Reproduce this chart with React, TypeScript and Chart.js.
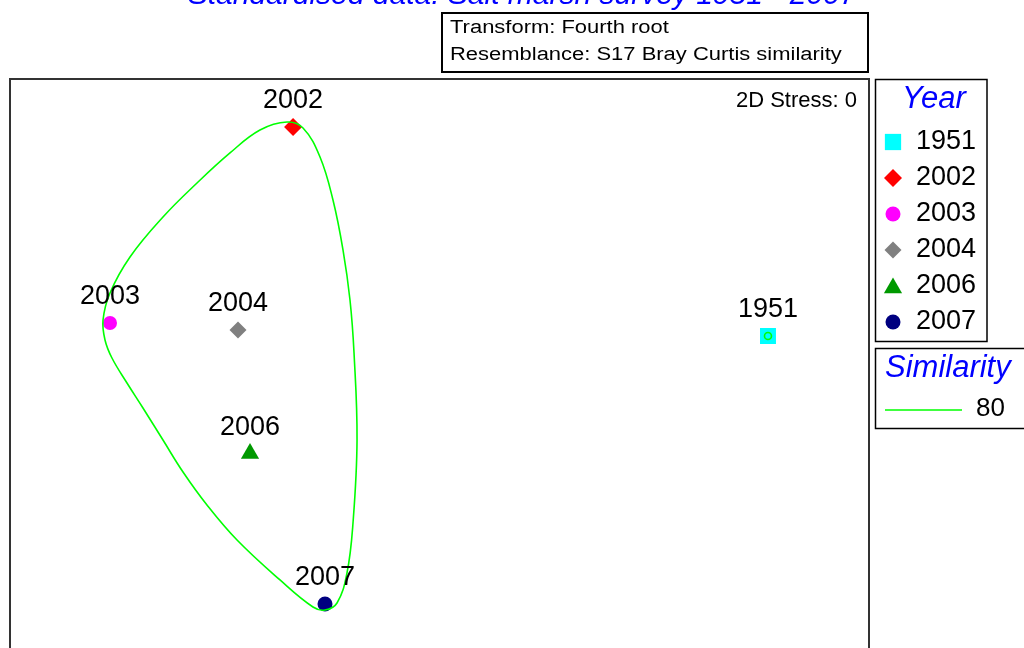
import React, { useEffect, useRef } from 'react';
import { Chart, registerables } from 'chart.js';

Chart.register(...registerables);

// ---- data ----
const years = ['1951', '2002', '2003', '2004', '2006', '2007'];
const mdsX = [38.24, -17.05, -38.36, -23.46, -22.06, -13.33];
const mdsY = [0.08, 24.41, 1.59, 0.78, -13.6, -31.12];

// 80% similarity contour around 2002/2003/2004/2006/2007 (closed loop, unique points)
const hullX = [-17.75, -15.89, -13.91, -12.4, -11.23, -10.42, -9.95, -9.6, -10.07, -10.77, -11.93, -13.33, -14.73, -18.57, -23.57, -27.07, -29.86, -32.19, -34.52, -36.38, -38.13, -38.94, -39.17, -38.36, -36.03, -32.19, -28.23, -24.39, -20.9];
const hullY = [24.99, 24.3, 20.92, 15.91, 10.09, 4.27, -1.9, -12.03, -21.69, -27.51, -31.0, -31.82, -31.47, -28.32, -23.67, -19.59, -15.75, -12.03, -8.3, -5.39, -2.48, -0.38, 1.94, 5.09, 9.28, 13.93, 17.89, 21.39, 24.06];

const similarityLevels = ['80'];
const titleText = 'Standardised data: Salt marsh survey 1951 - 2007';
const infoLines = ['Transform: Fourth root', 'Resemblance: S17 Bray Curtis similarity'];
const stressText = '2D Stress: 0';
const legendTitle = 'Year';
const simTitle = 'Similarity';

// ---- styles ----
const markerColors = ['#00ffff', '#ff0000', '#ff00ff', '#808080', '#009900', '#000080'];
const markerStyles = ['rect', 'rectRot', 'circle', 'rectRot', 'triangle', 'circle'];
const markerRadii = [11.3, 9, 7, 8.5, 10.5, 7.5];
const legendRadii = [11.5, 9, 7.5, 8.5, 10.5, 7.5];
const hullColor = '#00ff00';
const FONT = '"Liberation Sans", Arial, sans-serif';
const BLUE = '#0000ff';

function drawMarker(ctx: CanvasRenderingContext2D, style: string, x: number, y: number, r: number, color: string) {
  ctx.save();
  ctx.fillStyle = color;
  ctx.beginPath();
  if (style === 'rect') {
    const s = Math.SQRT1_2 * r;
    ctx.rect(x - s, y - s, 2 * s, 2 * s);
  } else if (style === 'rectRot') {
    ctx.moveTo(x - r, y);
    ctx.lineTo(x, y - r);
    ctx.lineTo(x + r, y);
    ctx.lineTo(x, y + r);
    ctx.closePath();
  } else if (style === 'triangle') {
    let a = 0;
    ctx.moveTo(x + Math.sin(a) * r, y - Math.cos(a) * r);
    a += (2 * Math.PI) / 3;
    ctx.lineTo(x + Math.sin(a) * r, y - Math.cos(a) * r);
    a += (2 * Math.PI) / 3;
    ctx.lineTo(x + Math.sin(a) * r, y - Math.cos(a) * r);
    ctx.closePath();
  } else {
    ctx.arc(x, y, r, 0, Math.PI * 2);
  }
  ctx.fill();
  ctx.restore();
}

const decorPlugin = {
  id: 'decor',
  afterDatasetsDraw(chart: any) {
    const ctx: CanvasRenderingContext2D = chart.ctx;
    ctx.save();
    ctx.fillStyle = '#000';
    ctx.font = `27px ${FONT}`;
    ctx.textAlign = 'center';
    ctx.textBaseline = 'alphabetic';
    years.forEach((yr, i) => {
      const el = chart.getDatasetMeta(i).data[0];
      if (el) ctx.fillText(yr, el.x, el.y - 19);
    });
    ctx.restore();
  },
  afterDraw(chart: any) {
    const ctx: CanvasRenderingContext2D = chart.ctx;
    const area = chart.chartArea;
    ctx.save();
    // plot frame (bottom edge is outside the picture)
    ctx.strokeStyle = '#333';
    ctx.lineWidth = 2;
    ctx.beginPath();
    ctx.moveTo(area.left, area.bottom + 20);
    ctx.lineTo(area.left, area.top);
    ctx.lineTo(area.right, area.top);
    ctx.lineTo(area.right, area.bottom + 20);
    ctx.stroke();

    // title (mostly above the picture)
    ctx.fillStyle = BLUE;
    ctx.font = `italic 30px ${FONT}`;
    ctx.textAlign = 'center';
    ctx.textBaseline = 'alphabetic';
    ctx.fillText(titleText, 522, 4);

    // info box
    ctx.strokeStyle = '#000';
    ctx.lineWidth = 2;
    ctx.strokeRect(442, 13, 426, 59);
    ctx.fillStyle = '#000';
    ctx.textAlign = 'left';
    ctx.font = `18px ${FONT}`;
    infoLines.forEach((t, i) => {
      ctx.save();
      ctx.translate(450, 33 + i * 26.6);
      ctx.scale(1.22, 1);
      ctx.fillText(t, 0, 0);
      ctx.restore();
    });

    // stress
    ctx.font = `22px ${FONT}`;
    ctx.textAlign = 'right';
    ctx.fillText(stressText, 857, 107);

    // Year legend
    ctx.lineWidth = 1.5;
    ctx.strokeRect(875.5, 79.5, 111.5, 262);
    ctx.fillStyle = BLUE;
    ctx.font = `italic 31px ${FONT}`;
    ctx.textAlign = 'center';
    ctx.fillText(legendTitle, 934, 108);
    ctx.font = `27px ${FONT}`;
    ctx.textAlign = 'left';
    ctx.textBaseline = 'middle';
    years.forEach((yr, i) => {
      const cy = 142 + i * 36;
      drawMarker(ctx, markerStyles[i], 893, markerStyles[i] === 'triangle' ? cy + 2 : cy, legendRadii[i], markerColors[i]);
      ctx.fillStyle = '#000';
      ctx.fillText(yr, 916, cy);
    });

    // Similarity legend
    ctx.strokeStyle = '#000';
    ctx.lineWidth = 1.5;
    ctx.strokeRect(875.5, 348.5, 170, 80);
    ctx.fillStyle = BLUE;
    ctx.font = `italic 31px ${FONT}`;
    ctx.textBaseline = 'alphabetic';
    ctx.fillText(simTitle, 885, 377);
    similarityLevels.forEach((lv, i) => {
      const cy = 410 + i * 36;
      ctx.strokeStyle = hullColor;
      ctx.lineWidth = 1.5;
      ctx.beginPath();
      ctx.moveTo(885, cy);
      ctx.lineTo(962, cy);
      ctx.stroke();
      ctx.fillStyle = '#000';
      ctx.font = `26px ${FONT}`;
      ctx.textBaseline = 'middle';
      ctx.fillText(lv, 976, cy - 1);
    });
    ctx.restore();
  },
};

export default function App() {
  const ref = useRef<HTMLCanvasElement | null>(null);
  useEffect(() => {
    if (!ref.current) return;
    const pointSets = years.map((yr, i) => ({
      label: yr,
      data: [{ x: mdsX[i], y: mdsY[i] }],
      pointStyle: markerStyles[i],
      pointRadius: markerRadii[i],
      pointHoverRadius: markerRadii[i],
      backgroundColor: markerColors[i],
      borderColor: markerColors[i],
      borderWidth: 0,
      order: 1,
    }));
    // closed loop: wrap with one neighbour on each end so every visible segment is smooth
    const m = hullX.length;
    const loop = [m - 1, ...hullX.map((_, i) => i), 0, 1].map((k) => ({ x: hullX[k], y: hullY[k] }));
    const lastIdx = loop.length - 2;
    const hull = {
      label: 'Similarity 80',
      data: loop,
      showLine: true,
      borderColor: hullColor,
      borderWidth: 1.6,
      pointRadius: 0,
      pointHoverRadius: 0,
      tension: 0.4,
      fill: false,
      order: 0,
      segment: {
        borderColor: (c: any) => (c.p0DataIndex === 0 || c.p0DataIndex === lastIdx ? 'rgba(0,0,0,0)' : hullColor),
      },
    };
    const ring = {
      label: 'Similarity 80 (1951)',
      data: [{ x: mdsX[0], y: mdsY[0] }],
      pointStyle: 'circle',
      pointRadius: 3.5,
      pointHoverRadius: 3.5,
      backgroundColor: 'rgba(0,0,0,0)',
      borderColor: hullColor,
      borderWidth: 1.6,
      order: 0,
    };
    const chart = new Chart(ref.current, {
      type: 'scatter',
      data: { datasets: [...pointSets, hull, ring] as any },
      options: {
        animation: false,
        responsive: false,
        devicePixelRatio: 1,
        layout: { autoPadding: false, padding: { left: 10, right: 155, top: 79, bottom: 0 } },
        scales: {
          x: { type: 'linear', min: -50, max: 50, display: false },
          y: { type: 'linear', min: -36.24, max: 30, display: false },
        },
        plugins: { legend: { display: false }, tooltip: { enabled: false } },
        events: [],
      } as any,
      plugins: [decorPlugin],
    });
    return () => chart.destroy();
  }, []);
  return (
    <div style={{ position: 'absolute', left: 0, top: 0, width: 1024, height: 648, background: '#fff' }}>
      <canvas ref={ref} width={1024} height={648} style={{ display: 'block', width: 1024, height: 648 }} />
    </div>
  );
}
